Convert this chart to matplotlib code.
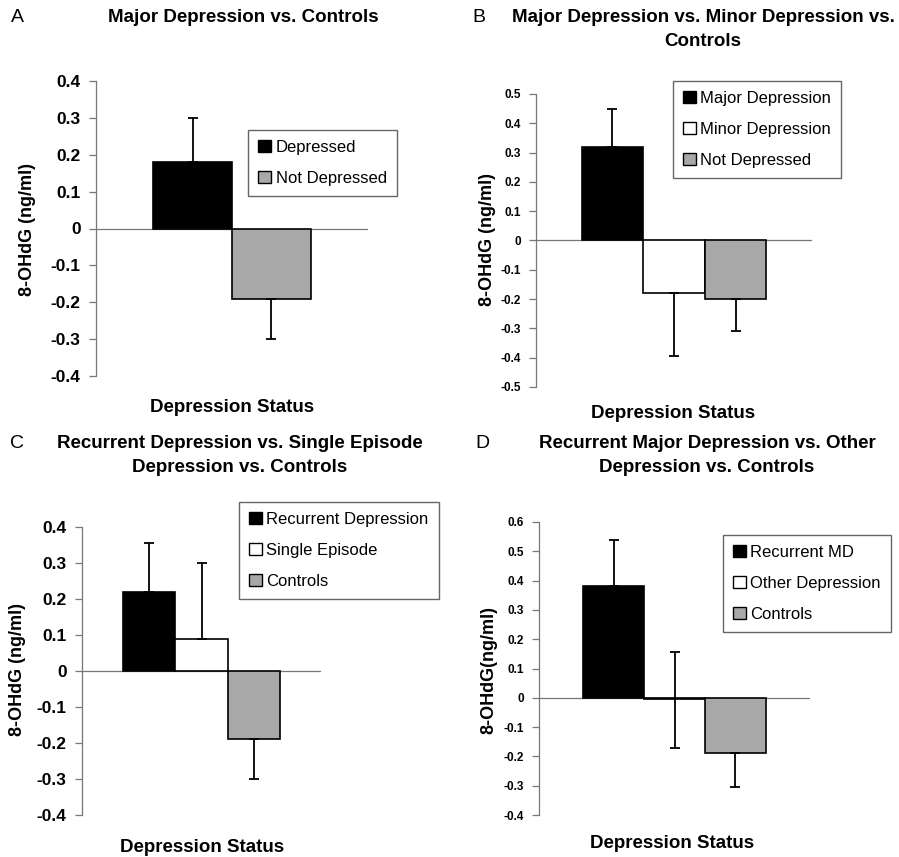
import numpy as np
import matplotlib.pyplot as plt
from matplotlib.patches import Patch

plt.rcParams['font.family'] = ['Liberation Sans', 'DejaVu Sans']

# panel data: labels, means, lower / upper error
a_labels = ['Depressed', 'Not Depressed']
a_vals = [0.18, -0.19]
a_err_lo = [0.0, 0.11]
a_err_hi = [0.12, 0.0]

b_labels = ['Major Depression', 'Minor Depression', 'Not Depressed']
b_vals = [0.32, -0.18, -0.20]
b_err_lo = [0.0, 0.215, 0.11]
b_err_hi = [0.13, 0.0, 0.0]

c_labels = ['Recurrent Depression', 'Single Episode', 'Controls']
c_vals = [0.22, 0.09, -0.19]
c_err_lo = [0.0, 0.0, 0.11]
c_err_hi = [0.135, 0.21, 0.0]

d_labels = ['Recurrent MD', 'Other Depression', 'Controls']
d_vals = [0.38, -0.005, -0.19]
d_err_lo = [0.0, 0.165, 0.115]
d_err_hi = [0.16, 0.16, 0.0]

colors3 = ['black', 'white', '#a8a8a8']
colors2 = ['black', '#a8a8a8']

W, H = 899, 857
fig = plt.figure(figsize=(W / 100, H / 100), dpi=100)


def px(x, y):
    return x / W, 1 - y / H


def panel(box, labels, vals, lo, hi, cols, ylim, yticks, tickfmt, tsize,
          half, ylab, leg_xy, ylab_xy, xlab_xy):
    l, r, t, b = box
    ax = fig.add_axes([l / W, 1 - b / H, (r - l) / W, (b - t) / H])
    n = len(vals)
    pos = np.arange(n) - (n - 1) / 2
    ax.bar(pos, vals, width=1.0, color=cols, edgecolor='black', linewidth=1.2,
           zorder=3)
    ax.errorbar(pos, vals, yerr=[lo, hi], fmt='none', ecolor='black',
                elinewidth=1.3, capsize=3.5, capthick=1.3, zorder=4)
    ax.axhline(0, color='#777777', lw=0.9, zorder=2)
    ax.set_xlim(-half, half)
    ax.set_ylim(*ylim)
    ax.set_yticks(yticks)
    ax.set_yticklabels([tickfmt(v) for v in yticks], fontsize=tsize,
                       fontweight='bold')
    ax.set_xticks([])
    for s in ['top', 'right', 'bottom']:
        ax.spines[s].set_visible(False)
    ax.spines['left'].set_color('#777777')
    ax.spines['left'].set_linewidth(0.9)
    ax.tick_params(axis='y', direction='out', length=5, color='#777777',
                   width=0.9, pad=6)
    ax.patch.set_alpha(0)
    handles = [Patch(facecolor=c, edgecolor='black', linewidth=1)
               for c in cols]
    ax.legend(handles, labels, loc='upper left',
              bbox_to_anchor=px(*leg_xy), bbox_transform=fig.transFigure,
              fontsize=12, frameon=True, fancybox=False, edgecolor='#666666',
              framealpha=1, borderaxespad=0, handlelength=0.75,
              handleheight=0.75, handletextpad=0.3, labelspacing=0.95,
              borderpad=0.6)
    fig.text(*px(*ylab_xy), ylab, rotation=90, ha='center', va='center',
             fontsize=13, fontweight='bold')
    fig.text(*px(*xlab_xy), 'Depression Status', ha='center', va='center',
             fontsize=13.5, fontweight='bold')
    return ax


def fmt1(v):
    return '0' if abs(v) < 1e-9 else f'{v:.1f}'


panel((96, 368, 81, 376), a_labels, a_vals, a_err_lo, a_err_hi, colors2,
      (-0.4, 0.4), np.round(np.arange(-0.4, 0.41, 0.1), 1), fmt1, 12.5, 1.73,
      '8-OHdG (ng/ml)', (248, 130), (27, 230), (232, 408))
panel((536, 812, 94, 387), b_labels, b_vals, b_err_lo, b_err_hi, colors3,
      (-0.5, 0.5), np.round(np.arange(-0.5, 0.51, 0.1), 1), fmt1, 8.5, 2.24,
      '8-OHdG (ng/ml)', (673, 81), (487, 240), (673, 413))
panel((82, 321, 527, 815), c_labels, c_vals, c_err_lo, c_err_hi, colors3,
      (-0.4, 0.4), np.round(np.arange(-0.4, 0.41, 0.1), 1), fmt1, 12.5, 2.28,
      '8-OHdG (ng/ml)', (239, 502), (18, 670), (202, 847))
panel((539, 810, 522, 815), d_labels, d_vals, d_err_lo, d_err_hi, colors3,
      (-0.4, 0.6), np.round(np.arange(-0.4, 0.61, 0.1), 1), fmt1, 8.5, 2.23,
      '8-OHdG(ng/ml)', (723, 535), (489, 670), (672, 843))

titles = [
    ('A', (17, 17), ['Major Depression vs. Controls'], (243, 17)),
    ('B', (479, 17), ['Major Depression vs. Minor Depression vs.', 'Controls'],
     (703, 17)),
    ('C', (17, 443), ['Recurrent Depression vs. Single Episode',
                      'Depression vs. Controls'], (240, 443)),
    ('D', (482, 443), ['Recurrent Major Depression vs. Other',
                       'Depression vs. Controls'], (707, 443)),
]
for letter, lxy, lines, txy in titles:
    fig.text(*px(*lxy), letter, ha='center', va='center', fontsize=14)
    for k, line in enumerate(lines):
        fig.text(*px(txy[0], txy[1] + 25 * k), line, ha='center',
                 va='center', fontsize=13.5, fontweight='bold')

fig.savefig('out.png', dpi=100)
